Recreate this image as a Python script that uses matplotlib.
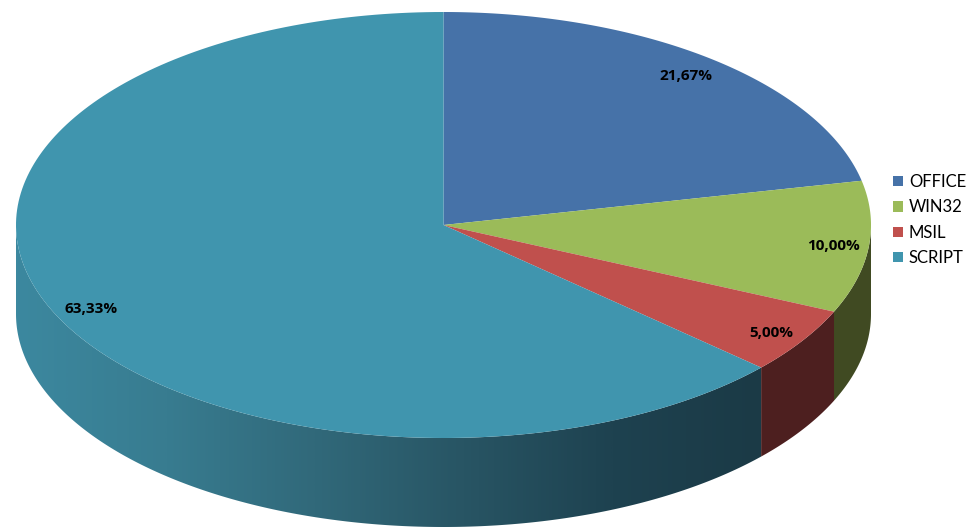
import numpy as np
import matplotlib
matplotlib.use('Agg')
import matplotlib.pyplot as plt
from matplotlib.colors import LinearSegmentedColormap
from matplotlib.patches import Patch, Polygon

categories = ['OFFICE', 'WIN32', 'MSIL', 'SCRIPT']
shares = [21.67, 10.00, 5.00, 63.33]
share_labels = ['21,67%', '10,00%', '5,00%', '63,33%']

top_colors = ['#4672a8', '#9bbb59', '#c0504d', '#4095ae']
wall_colors = ['#2a4466', '#404a22', '#4d1f1f', '#1b3a46']
script_wall = ['#3c889f', '#387c90', '#31697a', '#285564', '#1e4250', '#1b3a46']

cx, cy = 443.5, 225
rx, ry = 427.5, 213
depth = 89
label_pos = [(686, 76), (834, 246), (771, 333), (91, 309)]


def rim(a0, a1, n=200):
    # angles in degrees, clockwise from 12 o'clock
    t = np.radians(np.linspace(a0, a1, n))
    return np.column_stack([cx + rx * np.sin(t), cy - ry * np.cos(t)])


def wall_path(a0, a1):
    top = rim(a0, a1)
    bottom = top[::-1] + [0, depth]
    return np.vstack([top, bottom])


fig = plt.figure(figsize=(9.75, 5.31), dpi=100)
ax = fig.add_axes([0, 0, 1, 1])

edges = np.cumsum([0] + shares) / sum(shares) * 360

# side walls, only the front half of the cylinder shows
ax.add_patch(Polygon(wall_path(90, edges[2]), fc=wall_colors[1], ec='none'))
ax.add_patch(Polygon(wall_path(edges[2], edges[3]), fc=wall_colors[2], ec='none'))

cmap = LinearSegmentedColormap.from_list('wall', script_wall)
grad = ax.imshow(np.linspace(0, 1, 512).reshape(1, -1), cmap=cmap, aspect='auto',
                 extent=(cx - rx, rim(edges[3], edges[3], 1)[0][0], cy + ry + depth, cy))
clip = Polygon(wall_path(edges[3], 270), fc='none', ec='none', transform=ax.transData)
ax.add_patch(clip)
grad.set_clip_path(clip)

# top face
for i in range(4):
    pts = np.vstack([[cx, cy], rim(edges[i], edges[i + 1])])
    ax.add_patch(Polygon(pts, fc=top_colors[i], ec='none'))

for (x, y), s in zip(label_pos, share_labels):
    ax.text(x, y, s, ha='center', va='center', fontsize=11, fontweight='bold',
            family='Open Sans', color='black')

handles = [Patch(fc=c, ec='none') for c in top_colors]
ax.legend(handles, categories, loc='center left', bbox_to_anchor=(888 / 975, 1 - 220 / 531),
          frameon=False, prop={'family': 'Lato', 'size': 12}, handlelength=0.6, handleheight=0.6,
          handletextpad=0.35, labelspacing=0.56, borderpad=0, borderaxespad=0.3)

ax.set_xlim(0, 975)
ax.set_ylim(531, 0)
ax.axis('off')

fig.savefig('out.png', dpi=100)
